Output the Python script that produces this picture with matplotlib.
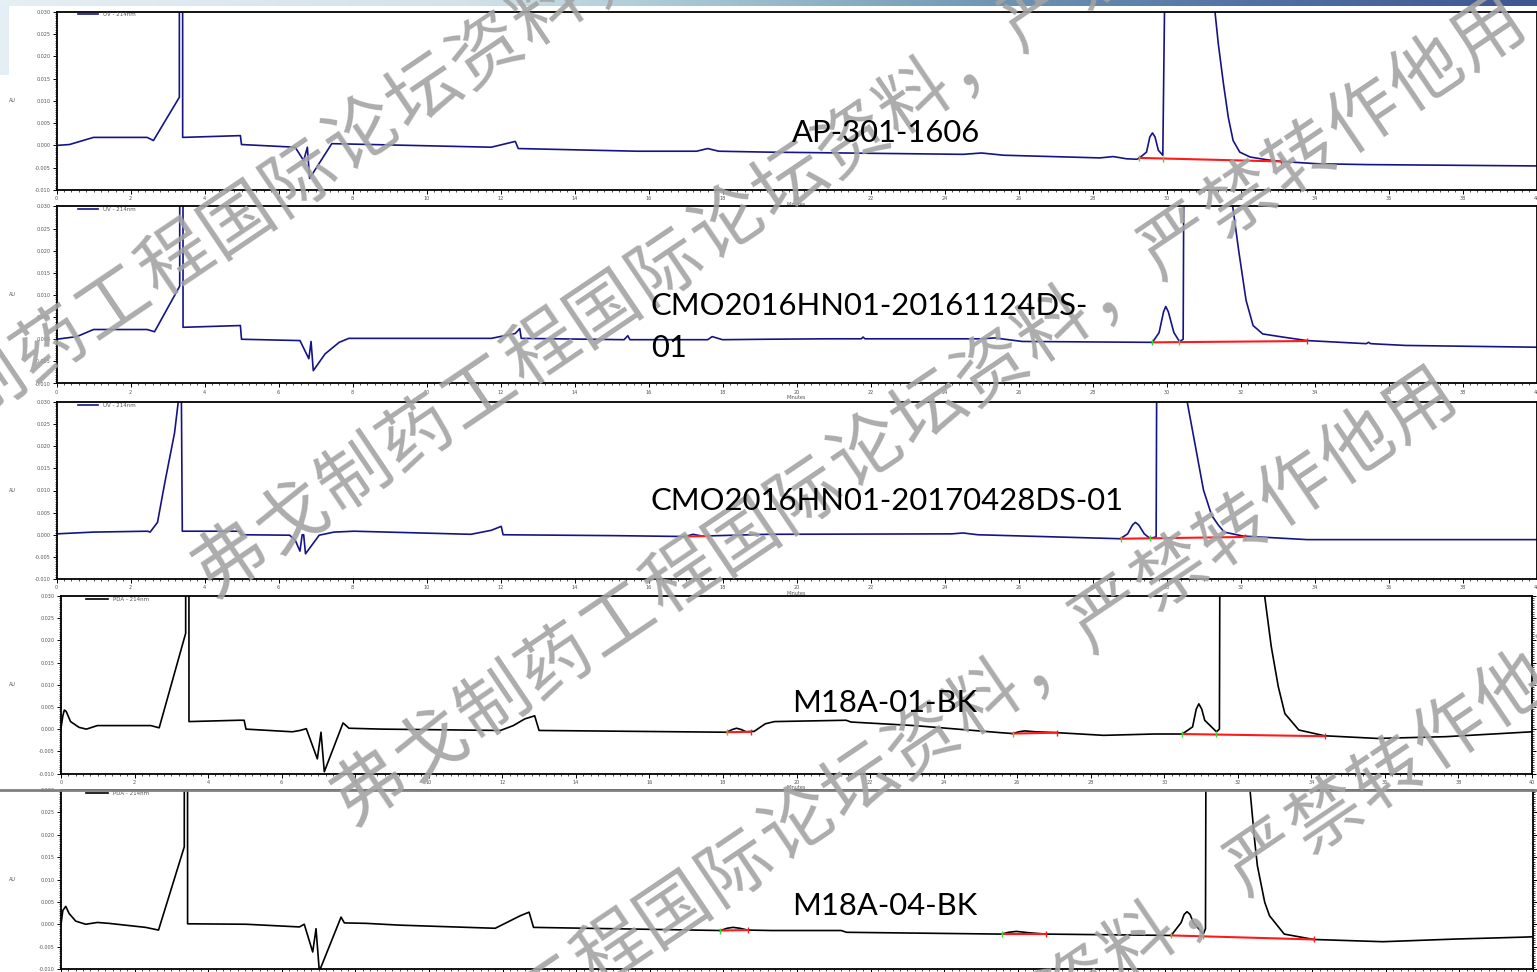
import numpy as np
import matplotlib
matplotlib.use("Agg")
import matplotlib.pyplot as plt
from matplotlib.colors import LinearSegmentedColormap
from matplotlib.lines import Line2D
from matplotlib.patches import Rectangle
from matplotlib.ticker import MultipleLocator, FormatStrFormatter

W, H = 1537, 972

# ---- chromatogram traces (time in min, response in AU) ----
t1 = [0, 0.35, 1.0, 2.45, 2.62, 3.32, 3.33, 3.40, 3.41, 4.97, 5.0, 6.45, 6.68, 6.78, 6.84, 7.44,
      11.75, 12.4, 12.48, 15.7, 17.3, 17.6, 17.9, 19.2, 24.5, 25.0, 25.6, 28.2, 28.56, 28.92, 29.2,
      29.27, 29.46, 29.55, 29.62, 29.69, 29.78, 29.9, 29.96, 30.1, 30.6, 31.1, 31.31, 31.4, 31.54,
      31.67, 31.8, 31.98, 32.26, 32.7, 33.1, 34.06, 35.4, 40]
au1 = [0.0, 0.0002, 0.0018, 0.0018, 0.0011, 0.0108, 0.25, 0.25, 0.0018, 0.0022, 0.0002, -0.0004,
       -0.0034, -0.0004, -0.0074, 0.0004, -0.0004, 0.0009, -0.0007, -0.0013, -0.0013, -0.0007,
       -0.0013, -0.0015, -0.002, -0.0017, -0.0022, -0.0028, -0.0025, -0.003, -0.0031, -0.0028,
       -0.0015, 0.0019, 0.0028, 0.0019, -0.0011, -0.0022, 0.04, 0.3, 0.4, 0.09, 0.030, 0.0228,
       0.0138, 0.0063, 0.0011, -0.0015, -0.0026, -0.0032, -0.0036, -0.0041, -0.0043, -0.0046]

t2 = [0, 0.55, 1.0, 2.45, 2.65, 3.33, 3.34, 3.41, 3.42, 4.97, 5.0, 6.58, 6.82, 6.88, 6.94, 7.26,
      7.64, 7.9, 11.75, 12.4, 12.52, 12.56, 15.34, 15.44, 15.5, 17.6, 17.72, 18.0, 19.2, 20.8,
      21.75, 21.8, 21.85, 25.0, 25.35, 26.1, 29.62, 29.8, 29.92, 29.98, 30.05, 30.2, 30.35, 30.45,
      30.6, 31.0, 31.5, 31.79, 31.95, 32.15, 32.34, 32.6, 33.14, 33.8, 35.4, 35.46, 35.52, 36.46, 40]
au2 = [0.0, 0.0006, 0.0022, 0.0022, 0.0017, 0.012, 0.25, 0.25, 0.0027, 0.0031, 0.0, -0.0003,
       -0.0044, -0.0005, -0.0071, -0.0033, -0.0007, 0.0002, 0.0002, 0.0013, 0.0024, 0.0002,
       -0.0001, 0.0008, -0.0001, -0.0001, 0.0006, -0.0001, 0.0, 0.0001, 0.0001, 0.0005, 0.0001,
       0.0001, 0.0003, -0.0005, -0.0007, 0.0015, 0.0062, 0.0074, 0.0062, 0.0015, -0.0005, 0.0,
       0.3, 0.4, 0.12, 0.030, 0.0201, 0.0088, 0.0031, 0.0012, 0.0005, -0.0003, -0.001, -0.0007,
       -0.001, -0.0014, -0.0018]

t3 = [0, 1.0, 2.46, 2.53, 2.73, 2.93, 3.19, 3.29, 3.36, 3.40, 4.97, 5.0, 6.3, 6.45, 6.58, 6.64,
      6.68, 6.73, 7.1, 7.5, 8.04, 11.2, 11.75, 12.02, 12.07, 15.07, 17.0, 17.2, 17.45, 19.2, 24.2,
      24.5, 24.9, 28.75, 28.95, 29.08, 29.16, 29.25, 29.4, 29.55, 29.72, 29.85, 30.2, 30.56, 31.0,
      31.22, 31.4, 31.56, 32.07, 33.8, 40]
au3 = [0.0002, 0.0006, 0.0008, 0.0006, 0.0028, 0.0119, 0.023, 0.030, 0.05, 0.0008, 0.0008, 0.0,
       -0.0001, -0.0012, -0.0037, 0.0, 0.0, -0.0043, -0.0001, 0.0006, 0.0008, 0.0001, 0.001,
       0.0019, 0.0, -0.0002, -0.0004, 0.0001, -0.0003, 0.0001, 0.0002, 0.0004, 0.0, -0.0009,
       0.0002, 0.0022, 0.0028, 0.0022, 0.0002, -0.0008, -0.0005, 0.3, 0.4, 0.030, 0.0101, 0.0044,
       0.0022, 0.0006, -0.0003, -0.0011, -0.0011]

t4 = [0, 0.05, 0.09, 0.14, 0.26, 0.49, 0.69, 0.99, 2.44, 2.67, 3.39, 3.40, 3.47, 3.48, 4.84, 4.98,
      5.03, 6.29, 6.5, 6.67, 6.97, 7.07, 7.16, 7.67, 7.83, 8.73, 11.95, 12.3, 12.61, 12.88, 13.0,
      18.1, 18.25, 18.37, 18.5, 18.63, 18.85, 19.15, 19.4, 21.35, 21.48, 23.2, 25.55, 25.88, 26.05,
      26.2, 26.5, 27.09, 28.35, 29.74, 30.49, 30.77, 30.87, 30.94, 31.02, 31.1, 31.42, 31.5, 31.6,
      32.2, 32.6, 32.73, 32.91, 33.1, 33.28, 33.66, 34.36, 35.8, 37.66, 40]
au4 = [0.0002, 0.003, 0.0043, 0.004, 0.0017, 0.0004, 0.0, 0.0008, 0.0008, 0.0003, 0.0216, 0.25,
       0.25, 0.0017, 0.002, 0.002, 0.0, -0.0006, -0.0003, 0.0001, -0.0067, -0.0007, -0.0096,
       0.0014, 0.0002, 0.0, -0.0003, 0.0008, 0.0023, 0.003, -0.0003, -0.0007, -0.0001, 0.0002,
       -0.0001, -0.0006, -0.0005, 0.0012, 0.0017, 0.002, 0.0016, 0.0008, -0.0008, -0.001, -0.0006,
       -0.0004, -0.0006, -0.0008, -0.0014, -0.0011, -0.0011, 0.0005, 0.0045, 0.0057, 0.0045,
       0.002, -0.0006, 0.0, 0.3, 0.4, 0.07, 0.030, 0.0186, 0.0096, 0.0035, -0.0002, -0.0015,
       -0.0021, -0.0017, -0.0006]

t5 = [0, 0.05, 0.13, 0.22, 0.4, 0.67, 0.99, 1.3, 2.3, 2.65, 3.35, 3.36, 3.43, 3.44, 5.03, 6.48,
      6.61, 6.84, 6.93, 7.02, 7.61, 7.7, 8.29, 9.2, 11.8, 12.48, 12.72, 12.84, 17.92, 18.1, 18.26,
      18.45, 18.66, 19.3, 21.2, 21.35, 25.56, 25.75, 25.96, 26.3, 26.76, 30.17, 30.44, 30.52, 30.6,
      30.68, 30.77, 31.04, 31.1, 31.2, 31.7, 32.2, 32.31, 32.44, 32.51, 32.71, 32.84, 33.24, 34.04,
      35.92, 37.92, 39.66, 40]
au5 = [0.0, 0.0031, 0.004, 0.0024, 0.0007, 0.0, 0.0004, 0.0002, -0.0007, -0.0013, 0.0173, 0.25,
       0.25, 0.0001, 0.0, -0.0006, 0.0, -0.0062, -0.001, -0.0105, 0.0016, 0.0003, 0.0002, -0.0002,
       -0.0009, 0.0019, 0.0027, -0.0007, -0.0014, -0.0009, -0.0007, -0.0009, -0.0013, -0.0014,
       -0.0014, -0.0018, -0.0022, -0.0018, -0.0016, -0.0019, -0.0022, -0.0025, 0.0004, 0.0022,
       0.0028, 0.0022, 0.0004, -0.0022, -0.001, 0.3, 0.4, 0.06, 0.030, 0.0184, 0.0131, 0.0049,
       0.0019, -0.0022, -0.0034, -0.0039, -0.0033, -0.0029, -0.0028]

# integration baselines: (start t, start au, end t, end au, valley t, valley au)
base1 = [(29.27, -0.0028, 33.1, -0.0036, 29.9, -0.0030)]
base2 = [(29.62, -0.0007, 33.8, -0.0004, 30.35, -0.0006)]
base3 = [(17.0, -0.0004, 17.6, -0.0003, None, None),
         (28.76, -0.0009, 32.13, -0.0005, 29.55, -0.0008)]
base4 = [(18.1, -0.0007, 18.76, -0.0006, None, None),
         (25.88, -0.0010, 27.09, -0.0008, None, None),
         (30.49, -0.0011, 34.36, -0.0016, 31.42, -0.0012)]
base5 = [(17.92, -0.0014, 18.66, -0.0013, None, None),
         (25.56, -0.0022, 26.76, -0.0022, None, None),
         (30.17, -0.0025, 34.04, -0.0034, 31.04, -0.0026)]

legends = ["UV - 214nm", "UV - 214nm", "UV - 214nm", "PDA - 214nm", "PDA - 214nm"]
samples = ["AP-301-1606", "CMO2016HN01-20161124DS-\n01", "CMO2016HN01-20170428DS-01",
           "M18A-01-BK", "M18A-04-BK"]
watermark = "弗戈制药工程国际论坛资料，严禁转作他用"

# ---- layout (pixels: left, top, right, bottom) ----
boxes = [(56.5, 11.7, 1536.5, 190), (56.5, 206.5, 1536.5, 383.5), (56.5, 402, 1536.5, 579),
         (61, 596, 1532, 773.5), (61, 790, 1533, 969)]
colors = ["#141488", "#141488", "#141488", "black", "black"]
# baseline of the last text line of each sample name
label_pos = [(792, 142), (651, 357), (651, 510), (792, 712), (792, 915)]

fig = plt.figure(figsize=(W / 100, H / 100), dpi=100)
fig.patch.set_facecolor("white")

# slide banner at the top
cmap = LinearSegmentedColormap.from_list(
    "banner", [(0, "#e6eff3"), (0.3, "#d2e3ea"), (0.46, "#a3c4d0"), (0.66, "#6d92b2"),
               (0.82, "#5271a3"), (1, "#3e5692")])
axb = fig.add_axes([0, 1 - 6.5 / H, 1, 6.5 / H])
axb.imshow(np.linspace(0, 1, 512)[None, :], aspect="auto", cmap=cmap, extent=(0, 1, 0, 1))
axb.axis("off")
fig.patches.append(Rectangle((0, 1 - 75 / H), 9 / W, 70 / H, transform=fig.transFigure,
                             facecolor="#e3eff4", edgecolor="none", zorder=0))

traces = [(t1, au1, base1), (t2, au2, base2), (t3, au3, base3), (t4, au4, base4), (t5, au5, base5)]
for i, ((t, au, bases), (l, tp, r, b)) in enumerate(zip(traces, boxes)):
    ax = fig.add_axes([l / W, 1 - b / H, (r - l) / W, (b - tp) / H])
    ax.plot(t, au, color=colors[i], lw=1.2, label=legends[i], solid_joinstyle="round")
    for (ts, ys, te, ye, tv, yv) in bases:
        ax.plot([ts, te], [ys, ye], color="#ff1a1a", lw=1.5)
        ax.plot([ts], [ys], marker="|", color="#33dd33", ms=4, mew=1)
        ax.plot([te], [ye], marker="|", color="#ff1a1a", ms=4, mew=1)
        if tv is not None:
            ax.plot([tv], [yv], marker="|", color="#33dd33", ms=4, mew=1)
    ax.set_xlim(0, 40)
    ax.set_ylim(-0.010, 0.030)
    ax.xaxis.set_major_locator(MultipleLocator(2))
    ax.xaxis.set_minor_locator(MultipleLocator(0.2))
    ax.yaxis.set_major_locator(MultipleLocator(0.005))
    ax.yaxis.set_minor_locator(MultipleLocator(0.0005))
    ax.xaxis.set_major_formatter(FormatStrFormatter("%.0f"))
    ax.yaxis.set_major_formatter(FormatStrFormatter("%.3f"))
    ax.tick_params(which="both", direction="out", labelsize=3.5, colors="black",
                   labelcolor="#555555", right=True, pad=1.5)
    ax.tick_params(which="major", length=3, width=0.7)
    ax.tick_params(which="minor", length=1.6, width=0.5)
    for s in ax.spines.values():
        s.set_linewidth(1.3)
    if i < 4:
        ax.set_xlabel("Minutes", fontsize=3.5, labelpad=0.5, color="#555555")
    else:
        # the last panel's time axis runs off the bottom of the slide
        ax.tick_params(axis="x", labelbottom=False)
    hl = 3.6 if i < 3 else 4.1
    ax.legend(loc="upper left", bbox_to_anchor=(0.0139 if i < 3 else 0.0163, 1.0),
              frameon=False, fontsize=4, handlelength=hl, handletextpad=0.9,
              borderaxespad=0, borderpad=0.1, labelcolor="#555555")
    fig.text(12 / W, 1 - (tp + b) / 2 / H, "AU", fontsize=3.5, color="#555555",
             ha="center", va="center")
    fig.text(label_pos[i][0] / W, 1 - label_pos[i][1] / H, samples[i], fontsize=22.3,
             family="Lato", ha="left", va="baseline", linespacing=1.62, zorder=6)

# gray slide line over the last panel
fig.lines.append(Line2D([0, 1], [1 - 790 / H, 1 - 790 / H], transform=fig.transFigure,
                        color="#7f7f7f", lw=2, zorder=1))

# rotated watermark, one line per anchor of its first character
wm_anchor = [(-135, 471), (231, 560), (370, 788), (301, 1161), (456, 1404)]
ang = np.deg2rad(34.0)
step = 75.0
for (x0, y0) in wm_anchor:
    for k, ch in enumerate(watermark):
        x = x0 + k * step * np.cos(ang)
        y = y0 - k * step * np.sin(ang)
        if -60 < x < W + 60 and -60 < y < H + 60:
            fig.text(x / W, 1 - y / H, ch, fontsize=52, color="#a3a3a3", alpha=0.9,
                     family=["Noto Sans CJK SC", "DejaVu Sans"], rotation=34,
                     ha="center", va="center", rotation_mode="anchor", zorder=5)

fig.savefig("out.png", dpi=100)
